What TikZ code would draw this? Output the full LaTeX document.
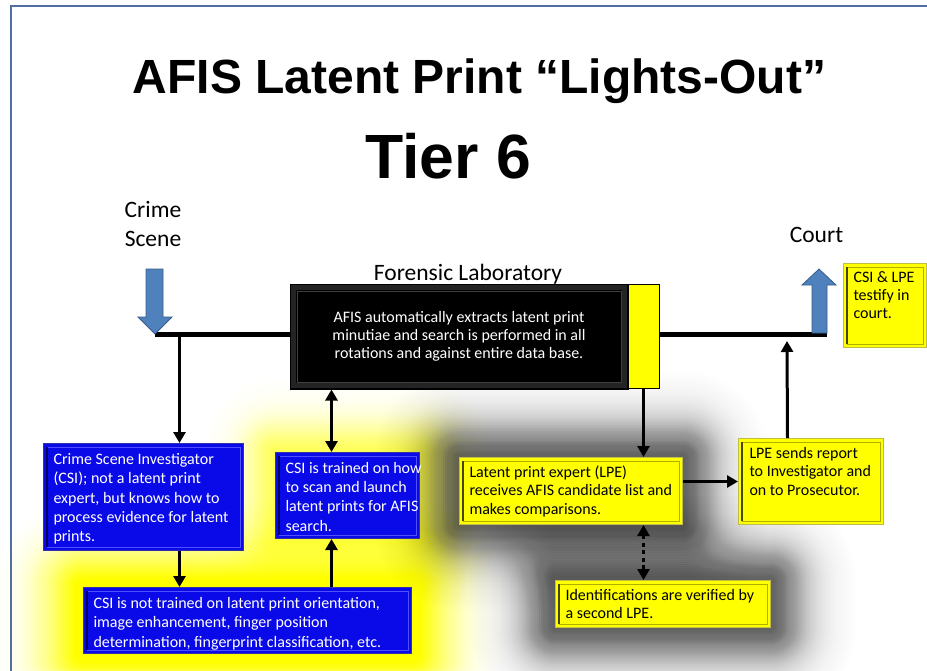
\documentclass[tikz,border=0pt]{standalone}
\usepackage{fontspec}
\setmainfont{Carlito}
\newfontfamily\headfont{Liberation Sans}
\usetikzlibrary{arrows.meta,calc}
\pgfdeclarelayer{glow}
\pgfsetlayers{glow,main}

\definecolor{framecol}{RGB}{79,111,165}
\definecolor{arrowfill}{RGB}{79,129,189}
\definecolor{arrowedge}{RGB}{56,93,138}
\definecolor{boxblue}{RGB}{10,10,232}
\definecolor{blueedge}{RGB}{50,50,170}
\definecolor{bluein}{RGB}{80,80,255}
\definecolor{bluedark}{RGB}{0,0,100}
\definecolor{boxyellow}{RGB}{255,255,0}
\definecolor{yeledge}{RGB}{190,190,70}
\definecolor{yelin}{RGB}{175,175,0}
\definecolor{yeldark}{RGB}{70,70,0}
\definecolor{labband}{RGB}{36,36,36}
\definecolor{labline}{RGB}{62,62,62}

% text block of a box: width, height, first baseline, line spacing, lines
\newcommand{\boxtxt}[5]{\parbox[c][#2pt][t]{#1pt}{\fontsize{16}{#4}\selectfont
  \begin{tabular}[t]{@{}l@{}}\rule{0pt}{#3pt}#5\end{tabular}}}

% soft halo round a node; opacity A*exp(-(d/L)^1.5) at distance d:
% node, colour, A, L, opacity cap, number of 2pt rings
\newcommand{\halo}[6]{%
  \foreach \i in {1,...,#6}{%
    \pgfmathsetmacro\ra{2*\i}%
    \pgfmathsetmacro\ta{min(#5,#3*exp(-(((\i-1)*2/#4)^1.5)))}%
    \pgfmathsetmacro\tb{min(#5,#3*exp(-((\i*2/#4)^1.5)))}%
    \pgfmathsetmacro\al{1-(1-\ta)/(1-\tb)}%
    \fill[#2, opacity=\al, rounded corners=\ra pt]
      ([shift={(-\ra pt,\ra pt)}]#1.north west) rectangle ([shift={(\ra pt,-\ra pt)}]#1.south east);
  }}

\tikzset{
  bevel/.style n args={3}{path picture={
    \draw[#1, line width=1pt]
      ([shift={(#3,-#3)}]path picture bounding box.north west) rectangle
      ([shift={(-#3,#3)}]path picture bounding box.south east);
    \draw[#2, line width=1.6pt]
      ([shift={(#3,-#3)}]path picture bounding box.north west) --
      ([shift={(#3,#3)}]path picture bounding box.south west);
  }},
  labbevel/.style={path picture={
    \draw[labband, line width=5pt]
      ([shift={(3.5pt,-3.5pt)}]path picture bounding box.north west) rectangle
      ([shift={(-3.5pt,3.5pt)}]path picture bounding box.south east);
    \draw[labline, line width=0.7pt]
      ([shift={(7pt,-7pt)}]path picture bounding box.north west) rectangle
      ([shift={(-7pt,7pt)}]path picture bounding box.south east);
  }},
  bluebox/.style={fill=boxblue, draw=blueedge, line width=1pt,
    bevel={bluein}{bluedark}{3.5pt}, inner sep=0pt, anchor=north west, text=white},
  yelbox/.style={fill=boxyellow, draw=yeledge, line width=1pt,
    bevel={yelin}{yeldark}{3.5pt}, inner sep=0pt, anchor=north west, text=black},
  labbox/.style={fill=black, draw=black, line width=1pt, labbevel, inner sep=0pt,
    text=white, align=center, font=\fontsize{16}{18.3}\selectfont},
  tabbox/.style={fill=boxyellow, draw=black, line width=0.8pt, inner sep=0pt},
  lbl/.style={inner sep=0pt, align=center, font=\fontsize{23.5}{29}\selectfont},
  bigarrow/.style={fill=arrowfill, draw=arrowedge, line width=0.8pt},
  mainline/.style={line width=5pt},
  arr/.style={line width=3pt, -{Triangle[length=11pt,width=12pt]}},
  dblarr/.style={line width=3pt, {Triangle[length=11pt,width=12pt]}-{Triangle[length=11pt,width=12pt]}},
  dotarr/.style={dblarr, dash pattern=on 4pt off 3.5pt},
}

\begin{document}
\begin{tikzpicture}[x=1pt,y=-1pt]
\useasboundingbox (0,0) rectangle (927,670);

% headings
\node[anchor=base, inner sep=0pt] (title) at (479.5,93)
  {\headfont\bfseries\fontsize{48}{48}\selectfont AFIS Latent Print “Lights-Out”};
\node[anchor=base, inner sep=0pt] (tier) at (448,178.5)
  {\headfont\bfseries\fontsize{62.5}{62.5}\selectfont Tier 6};

% place labels
\node[lbl, anchor=base] (crime) at (153,246) {Crime\\Scene};
\node[lbl, anchor=base] (court) at (816.5,242) {Court};
\node[lbl, anchor=base] (forlab) at (468,280) {Forensic Laboratory};

% laboratory block
\node[labbox, minimum width=338pt, minimum height=105pt] (lab) at (459,336.5)
  {AFIS automatically extracts latent print\\minutiae and search is performed in all\\rotations and against entire data base.};
\node[tabbox, minimum width=31pt, minimum height=104pt] (tab) at (643.5,336.5) {};

% process boxes
\node[bluebox, minimum width=200pt, minimum height=107pt] (csi) at (43,443)
  {\hspace*{10pt}\boxtxt{190}{107}{21}{19.3}{Crime Scene Investigator\\(CSI); not a latent print\\expert, but knows how to\\process evidence for latent\\prints.}};
\node[bluebox, minimum width=144pt, minimum height=86pt] (trained) at (275,452)
  {\hspace*{10pt}\boxtxt{134}{86}{20.7}{19.3}{CSI is trained on how\\to scan and launch\\latent prints for AFIS\\search.}};
\node[bluebox, minimum width=328pt, minimum height=66pt] (bot) at (83,587)
  {\hspace*{10pt}\boxtxt{318}{66}{21}{19.3}{CSI is not trained on latent print orientation,\\image enhancement, finger position\\determination, fingerprint classification, etc.}};
\node[yelbox, minimum width=223pt, minimum height=67pt] (lpe) at (459,457)
  {\hspace*{10pt}\boxtxt{213}{67}{19.5}{18.7}{Latent print expert (LPE)\\receives AFIS candidate list and\\makes comparisons.}};
\node[yelbox, minimum width=145pt, minimum height=86pt] (report) at (738,438)
  {\hspace*{11pt}\boxtxt{134}{86}{20}{18.3}{LPE sends report\\to Investigator and\\on to Prosecutor.}};
\node[yelbox, minimum width=215pt, minimum height=47pt] (ident) at (555,580)
  {\hspace*{10pt}\boxtxt{205}{47}{20}{18.3}{Identifications are verified by\\a second LPE.}};
\node[yelbox, minimum width=83pt, minimum height=84pt] (testify) at (843,263)
  {\hspace*{10pt}\boxtxt{73}{84}{18.7}{18}{CSI \& LPE\\testify in\\court.}};

% halos behind the boxes
\begin{pgfonlayer}{glow}
  \fill[white] (0,0) rectangle (927,670);
  \halo{trained}{boxyellow}{0.6}{30}{0.95}{40}
  \halo{bot}{boxyellow}{1.0}{40}{0.97}{45}
  \halo{lpe}{black}{0.55}{36}{0.95}{45}
  \halo{ident}{black}{0.55}{36}{0.95}{45}
\end{pgfonlayer}

% main flow line
\coordinate (cstip) at (155,334);
\coordinate (courtfoot) at (827,334);
\draw[mainline] (cstip) -- (cstip -| lab.west);
\draw[mainline] (tab.east |- courtfoot) -- (courtfoot);

% entry and exit arrows
\draw[bigarrow] (146,269) -- (163,269) -- (163,317) -- (172,317) -- (cstip)
  -- (138,317) -- (146,317) -- cycle;
\draw[bigarrow] (812,333) -- (812,285) -- (802,285) -- (819,269) -- (836,285)
  -- (827,285) -- (827,333) -- cycle;

% connectors
\coordinate (j1) at ([xshift=36pt]csi.north |- cstip);
\draw[arr] (j1) -- (j1 |- csi.north);
\coordinate (t1) at ([xshift=-16pt]trained.north);
\draw[dblarr] (t1 |- lab.south) -- (t1);
\coordinate (c3) at ([xshift=36pt]csi.south);
\draw[arr] (c3) -- (c3 |- bot.north);
\coordinate (t3) at ([xshift=-16pt]trained.south);
\draw[arr] (t3 |- bot.north) -- (t3);
\draw[arr] (tab.south) -- (tab.south |- lpe.north);
\draw[arr] (report.west -| lpe.east) -- (report.west);
\coordinate (r1) at ([xshift=-23.5pt]report.north);
\coordinate (r2) at (787,341);
\draw[arr] (r1) -- (r2);
\draw[dotarr] (lpe.south -| tab.south) -- (ident.north -| tab.south);

% slide frame
\draw[framecol, line width=2.5pt] (11,700) -- (11,6) -- (960,6);
\end{tikzpicture}
\end{document}
